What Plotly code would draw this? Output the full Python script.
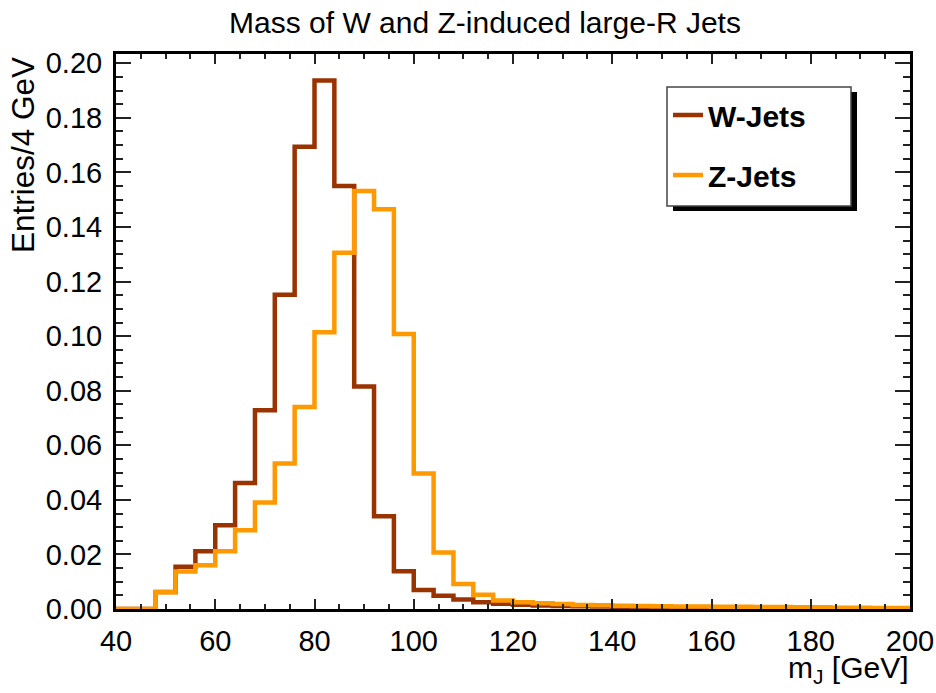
import plotly.graph_objects as go

# ---- data ----
bin_low = list(range(40, 200, 4))   # 4 GeV bins from 40 to 200
bin_high_end = 200

w_jets = [0.0, 0.0, 0.0062, 0.0155, 0.0212, 0.0307, 0.0462, 0.0728, 0.1152, 0.1694,
          0.1937, 0.1550, 0.0815, 0.0340, 0.0138, 0.0070, 0.0049, 0.0035, 0.0025, 0.0019,
          0.0016, 0.0013, 0.0011, 0.0010, 0.0009, 0.0008, 0.0007, 0.0007, 0.0006, 0.0006,
          0.0005, 0.0005, 0.0004, 0.0004, 0.0004, 0.0003, 0.0003, 0.0003, 0.0002, 0.0002]

z_jets = [0.0, 0.0, 0.0061, 0.0137, 0.0160, 0.0212, 0.0289, 0.0390, 0.0533, 0.0740,
          0.1014, 0.1306, 0.1532, 0.1465, 0.1008, 0.0497, 0.0207, 0.0092, 0.0052, 0.0031,
          0.0025, 0.0021, 0.0018, 0.0015, 0.0014, 0.0012, 0.0011, 0.0010, 0.0009, 0.0009,
          0.0008, 0.0008, 0.0007, 0.0007, 0.0006, 0.0006, 0.0005, 0.0005, 0.0004, 0.0004]

series_names = ["W-Jets", "Z-Jets"]
series_colors = ["#993300", "#ff9900"]

x_ticks = [40, 60, 80, 100, 120, 140, 160, 180, 200]
y_ticks = [0.00, 0.02, 0.04, 0.06, 0.08, 0.10, 0.12, 0.14, 0.16, 0.18, 0.20]

FONT = "Liberation Sans, Arial, Helvetica, sans-serif"

fig = go.Figure()
for name, vals, col in zip(series_names, [w_jets, z_jets], series_colors):
    fig.add_trace(go.Scatter(
        x=bin_low + [bin_high_end],
        y=vals + [vals[-1]],
        mode="lines",
        line=dict(shape="hv", color=col, width=4.5),
        name="<b>%s</b>" % name,
        legendgroup=name,
    ))

W, H = 936, 693
L, R, T, B = 116, 26, 54, 84
pw, ph = W - L - R, H - T - B

def px_x(p):
    return (p - L) / pw

def px_y(p):
    return (H - B - p) / ph

axis_common = dict(
    showline=True, linecolor="black", linewidth=3, mirror="allticks",
    ticks="inside", tickcolor="#222", tickwidth=2,
    showgrid=False, zeroline=False, automargin=False,
    tickfont=dict(family=FONT, size=29, color="black"),
)

fig.update_xaxes(
    range=[40, 200], tickvals=x_ticks, ticklen=10,
    minor=dict(dtick=5, ticks="inside", ticklen=5, tickcolor="#222", tickwidth=2, showgrid=False),
    ticklabelstandoff=4,
    **axis_common,
)
fig.update_yaxes(
    range=[0, 0.2034], tickvals=y_ticks, tickformat=".2f", ticklen=15,
    minor=dict(dtick=0.005, ticks="inside", ticklen=7, tickcolor="#222", tickwidth=2, showgrid=False),
    ticklabelstandoff=5,
    **axis_common,
)

# legend frame (ROOT style box with drop shadow)
legend_box = dict(x0=667, x1=851, y0=87, y1=206)
shadow_dx, shadow_dy = 6, 5

fig.update_layout(
    width=W, height=H,
    margin=dict(l=L, r=R, t=T, b=B, autoexpand=False),
    paper_bgcolor="white", plot_bgcolor="white",
    title=dict(text="Mass of W and Z-induced large-R Jets", x=485 / W, xanchor="center",
               y=1 - 22 / H, yanchor="middle", yref="container", automargin=False,
               font=dict(family=FONT, size=30, color="black")),
    showlegend=True,
    legend=dict(x=px_x(668), y=px_y(89), xanchor="left", yanchor="top",
                bgcolor="rgba(0,0,0,0)", borderwidth=0,
                font=dict(family=FONT, size=30, color="black"),
                tracegroupgap=18, traceorder="grouped"),
    shapes=[
        dict(type="rect", xref="paper", yref="paper",
             x0=px_x(legend_box["x0"] + shadow_dx), x1=px_x(legend_box["x1"] + shadow_dx),
             y0=px_y(legend_box["y1"] + shadow_dy), y1=px_y(legend_box["y0"] + shadow_dy),
             fillcolor="black", line=dict(width=0), layer="above"),
        dict(type="rect", xref="paper", yref="paper",
             x0=px_x(legend_box["x0"]), x1=px_x(legend_box["x1"]),
             y0=px_y(legend_box["y1"]), y1=px_y(legend_box["y0"]),
             fillcolor="white", line=dict(width=1.5, color="#444"), layer="above"),
    ],
    annotations=[
        dict(text="Entries/4 GeV", xref="paper", yref="paper", x=px_x(23), y=px_y(55),
             xanchor="center", yanchor="top", textangle=-90, showarrow=False,
             font=dict(family=FONT, size=31.5, color="black")),
        dict(text="m<sub>J</sub> [GeV]", xref="paper", yref="paper", x=px_x(911), y=px_y(669),
             xanchor="right", yanchor="middle", showarrow=False,
             font=dict(family=FONT, size=30, color="black")),
    ],
)

fig.write_html("out.html", post_script="document.body.style.margin='0';",
               config={"displayModeBar": False})
